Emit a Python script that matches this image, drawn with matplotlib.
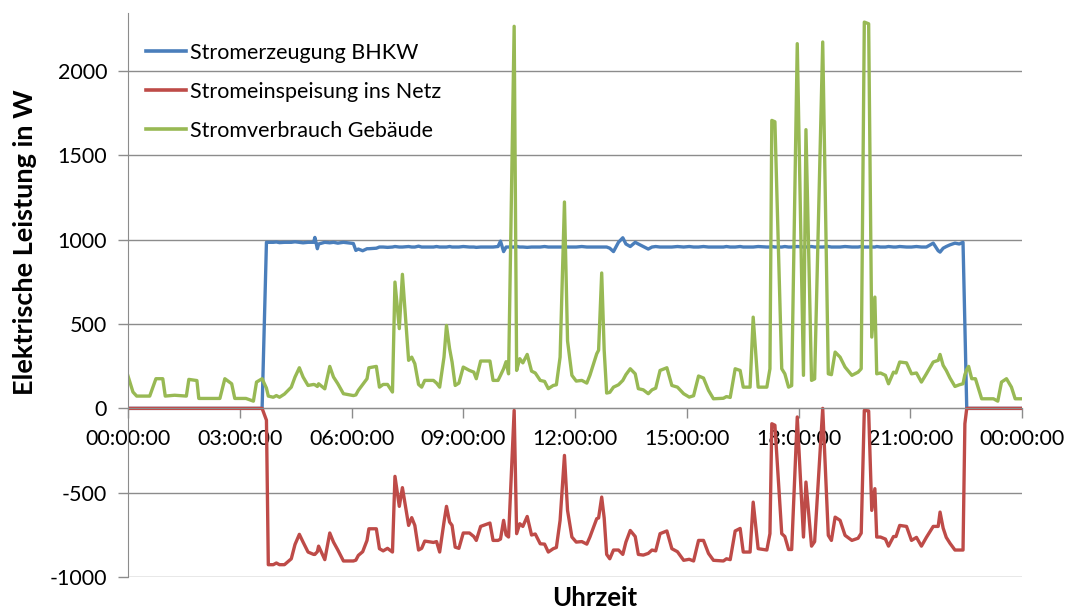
import matplotlib
matplotlib.use("Agg")
import matplotlib.pyplot as plt
import numpy as np

plt.rcParams['font.family'] = ['Lato', 'DejaVu Sans']
plt.rcParams['axes.unicode_minus'] = False

# time of each reading in minutes after midnight
t_min = [
    0, 8, 14, 35, 45, 56, 60, 75, 94, 98, 111, 114, 148, 156, 167, 172, 190, 202, 207, 216,
    223, 226, 234, 239, 244, 252, 263, 269, 276, 282, 290, 299, 301, 305, 307, 317, 325, 331, 338, 347,
    363, 367, 371, 378, 385, 388, 400, 405, 411, 418, 426, 430, 437, 442, 452, 457, 462, 468, 473, 478,
    492, 497, 502, 509, 513, 518, 522, 527, 533, 540, 550, 557, 561, 568, 583, 588, 596, 600, 605, 609,
    613, 622, 626, 631, 636, 643, 650, 656, 664, 671, 677, 685, 690, 696, 703, 708, 715, 722, 731, 739,
    744, 755, 758, 763, 767, 771, 776, 782, 790, 797, 802, 809, 817, 822, 830, 838, 844, 850, 857, 868,
    876, 885, 895, 904, 911, 919, 927, 935, 943, 959, 964, 970, 978, 986, 991, 1002, 1007, 1015, 1029, 1034,
    1037, 1042, 1053, 1058, 1064, 1069, 1078, 1088, 1092, 1101, 1106, 1119, 1128, 1133, 1139, 1147, 1155, 1166, 1176, 1181,
    1186, 1193, 1198, 1203, 1206, 1212, 1220, 1225, 1233, 1237, 1243, 1254, 1262, 1270, 1278, 1286, 1297, 1305, 1308, 1313,
    1318, 1324, 1332, 1339, 1345, 1348, 1351, 1354, 1359, 1365, 1375, 1394, 1401, 1407, 1415, 1423, 1429, 1440,
]

# Stromverbrauch Gebäude (W)
gebaeude = [
    192, 97, 73, 73, 176, 176, 73, 78, 73, 172, 165, 59, 59, 176, 146, 59, 59, 43, 156, 176,
    120, 73, 66, 76, 66, 85, 126, 186, 241, 186, 136, 142, 140, 130, 146, 116, 249, 186, 146, 87,
    76, 80, 107, 142, 176, 241, 249, 126, 142, 142, 97, 749, 473, 795, 285, 304, 265, 142, 126, 166,
    166, 150, 126, 304, 492, 354, 275, 136, 150, 245, 225, 215, 176, 281, 281, 166, 166, 196, 235, 277,
    205, 2266, 225, 295, 270, 320, 221, 210, 166, 160, 117, 136, 140, 304, 1224, 400, 196, 162, 166, 150,
    196, 324, 345, 803, 345, 91, 95, 126, 140, 166, 200, 235, 205, 117, 110, 87, 110, 120, 225, 241,
    136, 126, 87, 67, 75, 192, 180, 107, 57, 60, 70, 65, 235, 225, 126, 126, 541, 126, 126, 235,
    1708, 1700, 235, 205, 126, 135, 2163, 196, 1653, 166, 175, 2173, 205, 200, 334, 304, 245, 196, 215, 235,
    2291, 2281, 423, 660, 205, 210, 196, 146, 215, 210, 275, 270, 205, 210, 156, 205, 275, 285, 320, 255,
    225, 180, 130, 140, 146, 200, 230, 249, 176, 176, 57, 57, 43, 156, 176, 126, 57, 57,
]

# Stromeinspeisung ins Netz (W)
netz = [
    0, 0, 0, 0, 0, 0, 0, 0, 0, 0, 0, 0, 0, 0, 0, 0, 0, 0, 0, 0,
    -70, -927, -927, -917, -927, -927, -892, -807, -747, -793, -852, -866, -866, -850, -817, -897, -739, -793, -840, -905,
    -905, -900, -872, -850, -783, -714, -714, -832, -845, -830, -852, -403, -581, -470, -694, -648, -694, -840, -830, -787,
    -795, -790, -852, -674, -581, -674, -694, -823, -830, -739, -739, -760, -783, -700, -680, -783, -783, -775, -664, -750,
    -763, -12, -743, -684, -700, -641, -751, -745, -803, -805, -852, -832, -825, -664, -279, -605, -763, -793, -790, -805,
    -763, -654, -650, -526, -650, -866, -892, -840, -840, -866, -793, -724, -760, -866, -870, -860, -840, -845, -743, -727,
    -832, -850, -901, -895, -905, -783, -783, -860, -901, -905, -892, -897, -727, -712, -852, -852, -556, -832, -840, -743,
    -91, -100, -743, -760, -837, -837, -51, -763, -437, -817, -790, 0, -753, -783, -645, -664, -753, -783, -770, -740,
    -12, -15, -605, -476, -763, -763, -775, -817, -760, -760, -694, -700, -783, -765, -817, -765, -700, -700, -615, -710,
    -765, -800, -840, -840, -840, -91, 0, 0, 0, 0, 0, 0, 0, 0, 0, 0, 0, 0,
]

# Stromerzeugung BHKW (W)
bhkw = [
    0, 0, 0, 0, 0, 0, 0, 0, 0, 0, 0, 0, 0, 0, 0, 0, 0, 0, 0, 0,
    985, 985, 985, 987, 983, 985, 985, 988, 985, 982, 985, 985, 1014, 947, 975, 985, 982, 985, 980, 985,
    978, 937, 945, 935, 947, 947, 950, 957, 957, 955, 957, 960, 957, 957, 960, 957, 957, 962, 957, 957,
    957, 960, 957, 957, 957, 960, 957, 957, 957, 960, 957, 957, 955, 957, 957, 957, 960, 992, 930, 957,
    957, 957, 960, 957, 957, 955, 957, 957, 957, 960, 957, 957, 957, 957, 957, 957, 957, 957, 960, 957,
    957, 957, 957, 957, 957, 957, 950, 930, 985, 1012, 975, 960, 985, 975, 960, 945, 957, 960, 957, 957,
    957, 960, 957, 960, 957, 957, 960, 957, 957, 957, 960, 957, 957, 960, 957, 957, 957, 960, 957, 957,
    960, 957, 957, 960, 957, 957, 960, 957, 957, 960, 957, 957, 960, 957, 957, 957, 960, 957, 957, 960,
    957, 957, 957, 957, 960, 957, 957, 960, 957, 957, 960, 957, 957, 960, 957, 957, 980, 935, 927, 950,
    960, 970, 980, 975, 985, 490, 0, 0, 0, 0, 0, 0, 0, 0, 0, 0, 0, 0,
]

assert len(t_min) == len(gebaeude) == len(netz) == len(bhkw)

series_names = ['Stromerzeugung BHKW', 'Stromeinspeisung ins Netz', 'Stromverbrauch Gebäude']
series_colors = ['#4A7EBB', '#BE4B48', '#98B954']

xtick_hours = [0, 3, 6, 9, 12, 15, 18, 21, 24]
xtick_labels = ['00:00:00', '03:00:00', '06:00:00', '09:00:00', '12:00:00',
                '15:00:00', '18:00:00', '21:00:00', '00:00:00']
ytick_values = [-1000, -500, 0, 500, 1000, 1500, 2000]

W, H = 1070, 612
fig = plt.figure(figsize=(W / 100, H / 100), dpi=100)
ax = fig.add_axes([128 / W, 1 - 577 / H, (1022 - 128) / W, (577 - 13) / H])

hours = np.array(t_min) / 60.0
for vals, name, col in zip([bhkw, netz, gebaeude], series_names, series_colors):
    ax.plot(hours, vals, color=col, lw=2.4, label=name, solid_joinstyle='round')

ax.set_xlim(0, 24)
ax.set_ylim(-1000, 2345)

grid_col = '#8C8C8C'
for s in ['top', 'right']:
    ax.spines[s].set_visible(False)
ax.spines['bottom'].set_position(('data', 0))
ax.spines['left'].set_color(grid_col)
ax.spines['bottom'].set_color(grid_col)

ax.set_yticks(ytick_values)
ax.set_xticks(xtick_hours, xtick_labels)
ax.tick_params(axis='both', colors=grid_col, labelcolor='black', labelsize=15.5,
               length=7, width=1, direction='out')
ax.tick_params(axis='x', pad=8)
ax.tick_params(axis='y', pad=8)
ax.yaxis.grid(True, color=grid_col, lw=1)
ax.set_axisbelow(True)

leg = ax.legend(loc='upper left', bbox_to_anchor=((146 - 128) / 894, (577 - 43) / 564),
                frameon=False, fontsize=15.5, handlelength=1.85, handletextpad=0.2,
                labelspacing=0.88, borderpad=0, borderaxespad=0)
for line in leg.get_lines():
    line.set_linewidth(2.6)

fig.text(25 / W, 1 - 242 / H, 'Elektrische Leistung in W', rotation=90,
         fontsize=19.5, fontweight='bold', ha='center', va='center')
fig.text(595 / W, 1 - 598 / H, 'Uhrzeit', fontsize=18.5, fontweight='bold',
         ha='center', va='center')

fig.savefig('out.png', dpi=100)
